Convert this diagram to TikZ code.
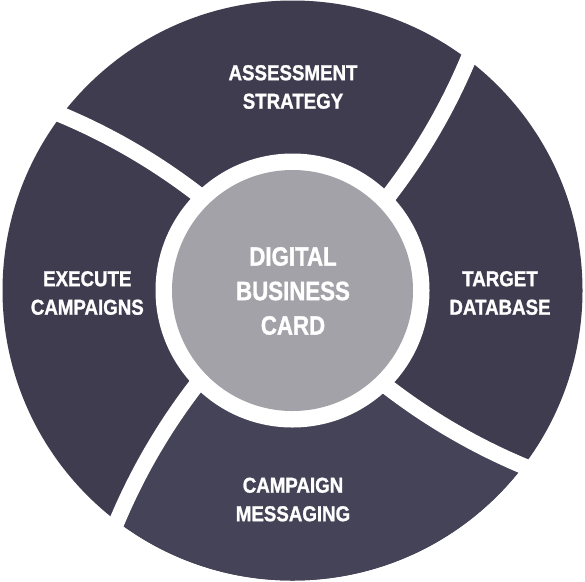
\documentclass[tikz,border=0pt]{standalone}
\usepackage{fontspec}
\setmainfont{Liberation Sans}
\newfontfamily\lblfont[FakeStretch=0.87,FakeBold=1.2]{Liberation Sans}
\newfontfamily\ctrfont[FakeStretch=0.84,FakeBold=1.2]{Liberation Sans}
\definecolor{segdark}{HTML}{3E3C4E}
\definecolor{seglight}{HTML}{454357}
\definecolor{hubgray}{HTML}{A2A2A8}
\begin{document}
\begin{tikzpicture}[x=1pt,y=-1pt,
  gapband/.style={draw=white,line width=16pt,line cap=butt},
  seglabel/.style={text=white,align=center,font=\lblfont\bfseries\fontsize{21.5}{28.5}\selectfont,inner sep=0pt},
  hublabel/.style={text=white,align=center,font=\ctrfont\bfseries\fontsize{26.5}{34.5}\selectfont,inner sep=0pt}]
\useasboundingbox (0,0) rectangle (585,581);
\begin{scope}[shift={(292.5,290.5)}]
  % outer disc
  \fill[segdark] (0,0) circle[radius=290];
  % lighter bottom segment
  \begin{scope}
    \clip (0,0) circle[radius=290];
    \fill[seglight] (0,0) -- (97,98) .. controls (138.7,129.8) and (183.7,155.8) .. (232,176)
      -- (400,250) -- (0,450) -- (-250,400) -- (-176,232)
      .. controls (-155.8,183.7) and (-129.8,138.7) .. (-98,97) -- cycle;
  \end{scope}
  % curved white gaps
  \foreach \a in {0,-90,-180,-270}{
    \draw[gapband,rotate=\a] (-85.1,-88.9) -- (-97,-98)
      .. controls (-138.7,-129.8) and (-183.7,-155.8) .. (-232,-176) -- (-248,-182.7);
  }
  % white ring and hub
  \fill[white] (0,0) circle[radius=137];
  \fill[hubgray] (0,0) circle[radius=120.5];
\end{scope}
\node[hublabel] (hub) at (293,291) {DIGITAL\\BUSINESS\\CARD};
\node[seglabel] (assess) at (293,87) {ASSESSMENT\\STRATEGY};
\node[seglabel] (target) at (500,293) {TARGET\\DATABASE};
\node[seglabel] (message) at (293,499.5) {CAMPAIGN\\MESSAGING};
\node[seglabel] (execute) at (87.3,293) {EXECUTE\\CAMPAIGNS};
\end{tikzpicture}
\end{document}
